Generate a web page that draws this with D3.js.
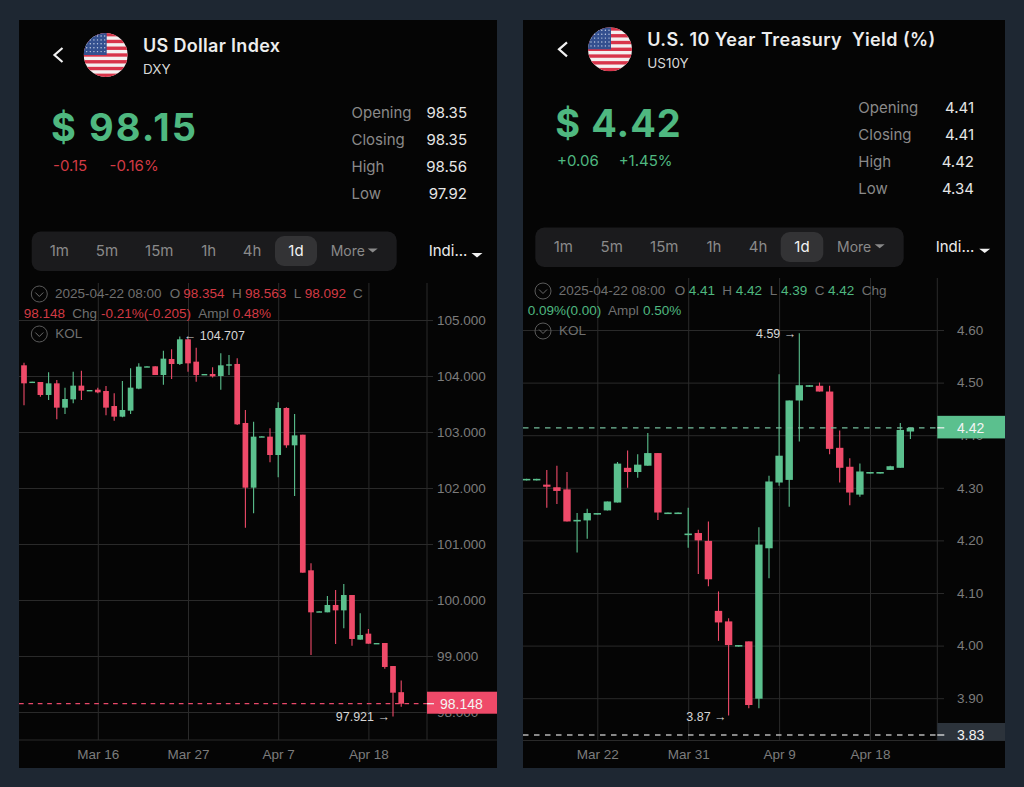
<!DOCTYPE html>
<html>
<head>
<meta charset="utf-8">
<script src="https://cdn.jsdelivr.net/npm/d3@7"></script>
<style>
  html, body { margin: 0; padding: 0; background: #1e2732; }
  svg { display: block; }
  text { font-family: Inter, "Noto Sans", sans-serif; white-space: pre; }
  .axis text, .note, .box-label { font-family: "Liberation Sans", Arial, sans-serif; }
</style>
</head>
<body>
<svg id="sketchpad" width="1024" height="787"></svg>
<script>
// values
const dxyOpen = [104.191,103.875,103.893,103.661,103.869,103.435,103.583,103.828,103.738,103.756,103.732,103.464,103.274,103.381,103.774,104.161,104.173,104.018,104.304,104.215,104.655,104.256,104.024,104.036,104.000,104.185,104.215,103.161,102.006,102.911,102.917,102.589,103.429,102.762,102.952,100.530,99.786,99.780,99.911,99.815,100.089,99.292,99.399,99.220,99.232,98.821,98.354];
const dxyHigh = [104.238,103.899,103.893,104.066,103.929,103.792,104.078,104.095,103.750,103.792,103.822,103.691,103.911,104.137,104.226,104.173,104.173,104.453,104.476,104.707,104.655,104.506,104.036,104.155,104.405,104.375,104.316,103.393,103.185,102.923,103.065,103.530,103.440,103.321,102.952,100.655,99.798,100.071,100.179,100.286,100.089,99.762,99.482,99.232,99.232,98.821,98.563];
const dxyLow = [103.476,103.875,103.631,103.572,103.226,103.322,103.512,103.572,103.738,103.691,103.298,103.203,103.262,103.322,103.762,104.161,104.018,103.845,103.947,104.197,104.078,103.899,104.024,103.971,103.756,104.018,103.125,101.292,101.548,102.911,102.458,102.190,102.720,101.857,100.488,99.018,99.786,99.780,99.214,99.494,99.185,99.292,99.220,99.220,98.774,97.921,98.092];
const dxyClose = [103.869,103.899,103.661,103.869,103.435,103.589,103.828,103.738,103.750,103.708,103.435,103.274,103.393,103.792,104.167,104.173,104.018,104.310,104.214,104.655,104.226,104.018,104.036,103.994,104.191,104.209,103.137,102.006,102.917,102.923,102.589,103.429,102.762,102.940,100.488,99.780,99.798,99.911,99.815,100.089,99.304,99.375,99.220,99.232,98.804,98.345,98.148];
const dxyTicks = [105, 104, 103, 102, 101, 100, 99, 98];
const dxyDateIdx = [9, 20, 31, 42];
const dxyDates = ["Mar 16", "Mar 27", "Apr 7", "Apr 18"];

const tnxOpen = [4.314,4.314,4.306,4.301,4.297,4.236,4.238,4.249,4.257,4.272,4.338,4.330,4.342,4.366,4.250,4.250,4.210,4.214,4.199,4.066,4.046,3.998,4.008,3.899,4.185,4.310,4.315,4.466,4.492,4.494,4.483,4.376,4.340,4.287,4.327,4.327,4.334,4.338,4.407];
const tnxHigh = [4.317,4.317,4.334,4.342,4.330,4.252,4.260,4.252,4.274,4.349,4.371,4.364,4.404,4.366,4.253,4.253,4.262,4.220,4.236,4.103,4.052,4.001,4.008,4.225,4.323,4.516,4.466,4.594,4.495,4.500,4.494,4.409,4.356,4.346,4.330,4.330,4.342,4.423,4.414];
const tnxLow = [4.314,4.314,4.262,4.269,4.236,4.177,4.203,4.249,4.257,4.272,4.300,4.319,4.342,4.239,4.250,4.250,4.186,4.136,4.113,4.009,3.867,3.998,3.881,3.881,4.128,4.304,4.264,4.388,4.492,4.483,4.364,4.310,4.267,4.283,4.327,4.327,4.334,4.338,4.393];
const tnxClose = [4.317,4.317,4.302,4.294,4.236,4.239,4.252,4.252,4.274,4.346,4.330,4.344,4.366,4.253,4.253,4.253,4.213,4.200,4.126,4.044,4.001,4.001,3.887,4.192,4.312,4.361,4.466,4.495,4.495,4.483,4.374,4.338,4.291,4.331,4.330,4.330,4.341,4.410,4.414];
const tnxTicks = [4.6, 4.5, 4.4, 4.3, 4.2, 4.1, 4.0, 3.9];
const tnxDateIdx = [7, 16, 25, 34];
const tnxDates = ["Mar 22", "Mar 31", "Apr 9", "Apr 18"];

const tabNames = ["1m", "5m", "15m", "1h", "4h", "1d"];
const statNames = ["Opening", "Closing", "High", "Low"];
const dxyStats = ["98.35", "98.35", "98.56", "97.92"];
const tnxStats = ["4.41", "4.41", "4.42", "4.34"];

const GREEN = "#5bc08e";
const RED = "#ef4a69";
const TXT_GREEN = "#4fb880";
const TXT_RED = "#d23a44";
const GREY = "#8a8a8a";
const GRID = "#2a2a2a";

const svg = d3.select("#sketchpad");

// dark card behind each screenshot
const drawCard = (x0, x1) =>
  svg.append("rect")
    .attr("x", x0).attr("y", 20)
    .attr("width", x1 - x0).attr("height", 748)
    .attr("fill", "#050505");

const drawFlag = (cx, cy) => {
  const r = 22;
  const id = `flag${cx}`;
  svg.append("clipPath").attr("id", id).append("circle")
    .attr("cx", cx).attr("cy", cy).attr("r", r);
  const g = svg.append("g").attr("clip-path", `url(#${id})`);
  const stripe = (2 * r) / 13;
  g.append("rect").attr("x", cx - r).attr("y", cy - r)
    .attr("width", 2 * r).attr("height", 2 * r).attr("fill", "#f4f0f0");
  g.selectAll(".stripe").data(d3.range(0, 13, 2)).enter().append("rect")
    .attr("x", cx - r).attr("y", (d) => cy - r + d * stripe)
    .attr("width", 2 * r).attr("height", stripe).attr("fill", "#d8344a");
  g.append("rect").attr("x", cx - r).attr("y", cy - r)
    .attr("width", r + 1).attr("height", r).attr("fill", "#34508f");
  // stars are just small dots at this size
  const stars = d3.cross(d3.range(6), d3.range(5));
  g.selectAll(".star").data(stars).enter().append("circle")
    .attr("cx", (d) => cx - r + 3 + d[0] * 3.6)
    .attr("cy", (d) => cy - r + 3 + d[1] * 3.9)
    .attr("r", 0.7).attr("fill", "#c6d0e6");
};

const label = (x, y, str, size, fill, weight, anchor) =>
  svg.append("text")
    .attr("x", x).attr("y", y)
    .attr("font-size", size)
    .attr("fill", fill)
    .attr("font-weight", weight || 400)
    .attr("text-anchor", anchor || "start")
    .text(str);

const drawHeader = (p) => {
  // back chevron
  svg.append("path")
    .attr("d", `M${p.backX + 4},${p.backY - 7} L${p.backX - 4},${p.backY} L${p.backX + 4},${p.backY + 7}`)
    .attr("fill", "none").attr("stroke", "#f2f2f2").attr("stroke-width", 2.2);
  drawFlag(p.flagX, p.flagY);
  label(p.titleX, p.titleY, p.title, 18, "#ededed", 600).attr("textLength", p.titleW);
  label(p.titleX, p.titleY + 22, p.sub, 13.5, "#d8d8d8");
  label(p.bigX, p.bigY, p.big, 38, TXT_GREEN, 700).attr("textLength", p.bigW);
  label(p.chgX[0], p.chgY, p.chg[0], 15, p.chgColor);
  label(p.chgX[1], p.chgY, p.chg[1], 15, p.chgColor);
  statNames.forEach((s, i) => {
    const y = p.statY + i * 27;
    label(p.statX, y, s, 15, GREY);
    label(p.statEnd, y, p.stats[i], 15, "#e6e6e6", 400, "end");
  });
};

const drawTabs = (p) => {
  svg.append("rect")
    .attr("x", p.tabX0).attr("y", p.tabY0)
    .attr("width", p.tabX1 - p.tabX0).attr("height", 39.5)
    .attr("rx", 9).attr("fill", "#1b1b1d");
  svg.append("rect")
    .attr("x", p.pillX0).attr("y", p.tabY0 + 4.5)
    .attr("width", p.pillX1 - p.pillX0).attr("height", 30)
    .attr("rx", 9).attr("fill", "#333335");
  tabNames.forEach((t, i) => {
    label(p.tabCx[i], p.tabBase, t, 15, t === "1d" ? "#f2f2f2" : GREY, 400, "middle");
  });
  label(p.moreX, p.tabBase, "More", 14, GREY);
  const tri = (x, y, w, fill) =>
    svg.append("path")
      .attr("d", `M${x - w},${y} L${x + w},${y} L${x},${y + w * 0.8} Z`)
      .attr("fill", fill);
  tri(p.moreTri, p.tabBase - 7.5, 5, GREY);
  label(p.indiX, p.tabBase, "Indi...", 15, "#ececec");
  tri(p.indiTri, p.tabBase - 3, 5.5, "#f2f2f2");
};

const drawInfo = (p) => {
  [p.info1Y, p.kolY].forEach((y) => {
    svg.append("circle")
      .attr("cx", p.infoCx).attr("cy", y - 4).attr("r", 8)
      .attr("fill", "none").attr("stroke", "#5a5a5a").attr("stroke-width", 1);
    svg.append("path")
      .attr("d", `M${p.infoCx - 4},${y - 5.5} L${p.infoCx},${y - 1.5} L${p.infoCx + 4},${y - 5.5}`)
      .attr("fill", "none").attr("stroke", "#6a6a6a").attr("stroke-width", 1);
  });
  p.info1.forEach((d) => label(d[0], p.info1Y, d[1], 13.5, d[2] ? p.infoColor : "#6f6f6f").attr("class", "note"));
  p.info2.forEach((d) => label(d[0], p.info2Y, d[1], 13.5, d[2] ? p.infoColor : "#6f6f6f").attr("class", "note"));
  label(p.infoCx + 16, p.kolY, "KOL", 13.5, "#6f6f6f").attr("class", "note");
};

const drawChart = (p) => {
  const x = d3.scalePoint().domain(d3.range(p.open.length)).range(p.xRange);
  const y = d3.scaleLinear().domain(p.yDomain).range(p.yRange);

  // horizontal grid and price labels
  const yAxis = d3.axisRight(y)
    .tickValues(p.ticks)
    .tickFormat(d3.format(p.tickFormat))
    .tickSizeInner(-(p.gridEnd - p.card[0]))
    .tickSizeOuter(0)
    .tickPadding(p.tickPad);
  const gy = svg.append("g").attr("class", "axis")
    .attr("transform", `translate(${p.gridEnd},0)`)
    .call(yAxis);
  gy.select(".domain").remove();
  gy.selectAll("line").attr("stroke", GRID);
  gy.selectAll("text").attr("fill", "#7c7c7c").attr("font-size", 13.5);

  // vertical grid and dates
  const xAxis = d3.axisBottom(x)
    .tickValues(p.dateIdx)
    .tickFormat((d, i) => p.dates[i])
    .tickSizeInner(-(p.axisY - p.gridTop))
    .tickSizeOuter(0)
    .tickPadding(9);
  const gx = svg.append("g").attr("class", "axis")
    .attr("transform", `translate(0,${p.axisY})`)
    .call(xAxis);
  gx.select(".domain").remove();
  gx.selectAll("line").attr("stroke", GRID);
  gx.selectAll("text").attr("fill", "#7c7c7c").attr("font-size", 13.5);

  svg.append("line")
    .attr("x1", p.card[0]).attr("x2", p.card[1])
    .attr("y1", p.axisY).attr("y2", p.axisY)
    .attr("stroke", GRID);
  svg.append("line")
    .attr("x1", p.axisX).attr("x2", p.axisX)
    .attr("y1", p.gridTop).attr("y2", p.axisY)
    .attr("stroke", GRID);

  // candles
  const rows = p.open.map((o, i) => ({
    i, o, h: p.high[i], l: p.low[i], c: p.close[i],
  }));
  const colour = (d) => (d.c >= d.o ? GREEN : RED);
  svg.append("g").selectAll("line").data(rows).enter().append("line")
    .attr("x1", (d) => x(d.i)).attr("x2", (d) => x(d.i))
    .attr("y1", (d) => y(d.h)).attr("y2", (d) => y(d.l))
    .attr("stroke", colour).attr("stroke-width", 1.1);
  svg.append("g").selectAll("rect").data(rows).enter().append("rect")
    .attr("x", (d) => x(d.i) - p.bodyW / 2)
    .attr("width", p.bodyW)
    .attr("y", (d) => y(Math.max(d.o, d.c)))
    .attr("height", (d) => Math.max(1.4, Math.abs(y(d.o) - y(d.c))))
    .attr("fill", colour);

  // high / low notes
  p.notes.forEach((n) => {
    label(x(n.i) + n.dx, y(n.v) + n.dy, n.text, 12.5, "#d6d6d6", 400, n.anchor).attr("class", "note");
  });

  // dashed price lines and their boxes
  p.prices.forEach((d) => {
    svg.append("line")
      .attr("x1", p.card[0]).attr("x2", p.axisX)
      .attr("y1", y(d.v)).attr("y2", y(d.v))
      .attr("stroke", d.line).attr("stroke-dasharray", p.dash).attr("stroke-width", 1.3);
    svg.append("rect")
      .attr("x", p.axisX).attr("y", y(d.v) + d.boxDy)
      .attr("width", p.card[1] - p.axisX).attr("height", d.boxH)
      .attr("fill", d.box);
    svg.append("line")
      .attr("x1", p.axisX).attr("x2", p.axisX + 7)
      .attr("y1", y(d.v)).attr("y2", y(d.v))
      .attr("stroke", "#f2f2f2").attr("stroke-width", 1.2);
    label(d.textX, y(d.v) + d.textDy, d.text, 14, "#f4f4f4").attr("class", "box-label");
  });
};

const panels = [
  {
    card: [19, 497],
    backX: 58.5, backY: 55, flagX: 105.7, flagY: 55,
    title: "US Dollar Index", sub: "DXY", titleX: 143, titleY: 51.5, titleW: 137,
    big: "$ 98.15", bigX: 51, bigY: 141, bigW: 145,
    chg: ["-0.15", "-0.16%"], chgX: [53, 109.5], chgY: 171, chgColor: TXT_RED,
    stats: dxyStats, statX: 351.5, statEnd: 467, statY: 118,
    tabX0: 31.7, tabX1: 396.7, tabY0: 231.5, pillX0: 275, pillX1: 317, tabBase: 256,
    tabCx: [59.3, 107, 159.3, 208.7, 252, 296], moreX: 330.7, moreTri: 372.7, indiX: 428.7, indiTri: 477,
    infoCx: 39.3, info1Y: 298, info2Y: 318, kolY: 338, infoColor: TXT_RED,
    info1: [[55, "2025-04-22 08:00"], [169.7, "O"], [183.3, "98.354", 1], [232, "H"], [245, "98.563", 1], [293.7, "L"], [304.7, "98.092", 1], [353, "C"]],
    info2: [[23.7, "98.148", 1], [72.3, "Chg"], [101, "-0.21%(-0.205)", 1], [198.3, "Ampl"], [232.7, "0.48%", 1]],
    open: dxyOpen, high: dxyHigh, low: dxyLow, close: dxyClose,
    xRange: [24, 401.2], yDomain: [98, 105], yRange: [712, 320],
    ticks: dxyTicks, tickFormat: ".3f", tickPad: 4, gridEnd: 433, axisX: 427, axisY: 740, gridTop: 283,
    dateIdx: dxyDateIdx, dates: dxyDates, bodyW: 5.7, dash: "4.7 4.7",
    notes: [
      { i: 19, v: 104.707, dx: 4, dy: 4, text: "← 104.707", anchor: "start" },
      { i: 45, v: 97.921, dx: -3, dy: 4.5, text: "97.921 →", anchor: "end" },
    ],
    prices: [{ v: 98.148, text: "98.148", textX: 440, line: "#e8486a", box: RED, boxDy: -12, boxH: 22, textDy: 5 }],
  },
  {
    card: [523, 1005],
    backX: 563, backY: 49.3, flagX: 610, flagY: 49.3,
    title: "U.S. 10 Year Treasury  Yield (%)", sub: "US10Y", titleX: 647.3, titleY: 46, titleW: 288,
    big: "$ 4.42", bigX: 555.3, bigY: 136.7, bigW: 125.5,
    chg: ["+0.06", "+1.45%"], chgX: [557, 618.7], chgY: 166, chgColor: TXT_GREEN,
    stats: tnxStats, statX: 858.3, statEnd: 974, statY: 113.3,
    tabX0: 535.3, tabX1: 903.7, tabY0: 227.5, pillX0: 780.7, pillX1: 823.3, tabBase: 251.7,
    tabCx: [563.3, 611.7, 664.3, 714, 758, 802], moreX: 837, moreTri: 879.7, indiX: 935.7, indiTri: 984.7,
    infoCx: 543, info1Y: 295, info2Y: 315, kolY: 335, infoColor: TXT_GREEN,
    info1: [[558.7, "2025-04-22 08:00"], [674.7, "O"], [688.7, "4.41", 1], [722.3, "H"], [735.7, "4.42", 1], [769.7, "L"], [781, "4.39", 1], [814.7, "C"], [828, "4.42", 1], [861.7, "Chg"]],
    info2: [[527.7, "0.09%(0.00)", 1], [608, "Ampl"], [643, "0.50%", 1]],
    open: tnxOpen, high: tnxHigh, low: tnxLow, close: tnxClose,
    xRange: [526.6, 910.4], yDomain: [3.83, 4.6], yRange: [735, 330],
    ticks: tnxTicks, tickFormat: ".2f", tickPad: 13, gridEnd: 944, axisX: 937.3, axisY: 740.5, gridTop: 278,
    dateIdx: tnxDateIdx, dates: tnxDates, bodyW: 7.4, dash: "5.5 5.5",
    notes: [
      { i: 27, v: 4.594, dx: -3, dy: 4.5, text: "4.59 →", anchor: "end" },
      { i: 20, v: 3.867, dx: -2, dy: 5, text: "3.87 →", anchor: "end" },
    ],
    prices: [
      { v: 4.414, text: "4.42", textX: 957, line: "#74bd9c", box: GREEN, boxDy: -12, boxH: 22.6, textDy: 5 },
      { v: 3.83, text: "3.83", textX: 957, line: "#b5b5b5", box: "#2c333b", boxDy: -12, boxH: 17.7, textDy: 5 },
    ],
  },
];

panels.forEach((p) => {
  drawCard(p.card[0], p.card[1]);
  drawHeader(p);
  drawTabs(p);
  drawChart(p);
  drawInfo(p);
});
</script>
</body>
</html>
